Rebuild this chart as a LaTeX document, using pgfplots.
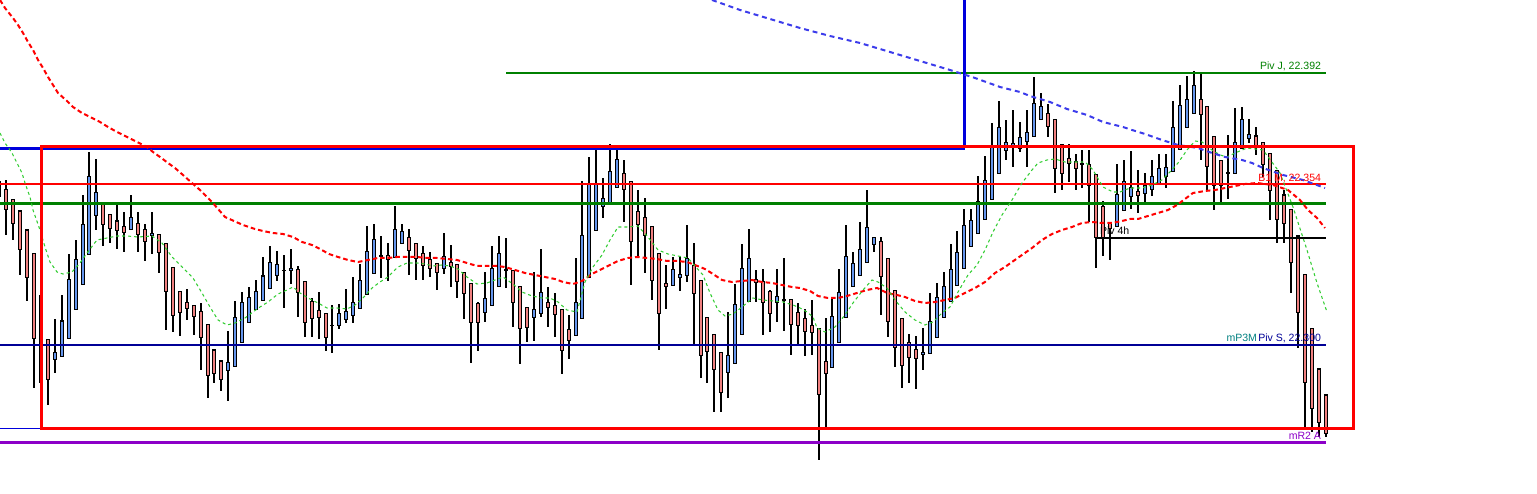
\documentclass[border=0pt]{standalone}
\usepackage{pgfplots}
\pgfplotsset{compat=1.18}
\usepackage{pgfplotstable}
\usepackage{fontspec}
\setmainfont{Liberation Sans}
\definecolor{bear}{RGB}{240,128,128}
\definecolor{bull}{RGB}{100,149,237}
\definecolor{lvred}{RGB}{255,0,0}
\definecolor{lvgreen}{RGB}{0,128,0}
\definecolor{lvnavy}{RGB}{0,0,150}
\definecolor{lvblue}{RGB}{0,0,220}
\definecolor{lvpurple}{RGB}{140,0,200}
\definecolor{maGreen}{RGB}{50,205,50}
\definecolor{maBlue}{RGB}{60,60,235}
% candles in chart pixel units (y grows downward); bull: o=bottom, c=top; bear: o=top, c=bottom
\pgfplotstableread{
x o h l c
-1 181.7 181 200 196.7
6 189.3 180 235 209.3
13 199.3 199.3 240 223.3
20 211 211 275 249.3
27 230 230 300.7 277.3
34 253.3 253.3 387.7 338.3
41 295.7 295.7 385 382.3
48 339.3 339.3 405 380
55 360 319 373.3 352.3
62 356.7 295 356.7 321
69 338.3 254 338.3 279.3
76 309.3 240 309.3 259.3
83 284.3 195 284.3 224.3
89 254.3 152.3 254.3 176.3
96 215.3 159 230 192.3
103 203.3 203.3 245.7 224.3
110 214.3 214.3 243.3 228.3
117 221 205 249.3 230.3
124 226.3 211.7 251.7 232.3
131 229.3 195 229.3 217.3
138 223.3 212.3 251.7 234.3
145 229.3 224 260.7 241.7
152 235.3 212.3 254.3 233.3
159 234.3 234.3 273.3 252.3
166 243.3 243.3 330 291.7
173 267.3 267.3 332.3 315.7
180 291.3 291.3 335.7 312.3
187 302.3 289.3 320 308.3
194 305.3 305.3 335 316.7
201 311.3 303.3 370 337.3
208 324.3 324.3 397.7 375.7
214 350 350 382.7 373.3
221 361 361 390.7 379.3
228 370.7 331 400.7 362.3
235 366.7 301 366.7 317.3
242 342.3 291.7 342.3 302.3
249 322.3 286.7 322.3 297.3
256 309.3 280 309.3 291.3
263 300.3 256.7 300.3 276
270 288.3 246 288.3 262.3
277 275.3 251 280.7 264.3
284 270.3 255 307.7 270.3
291 270.3 249 284 268.3
298 269.3 266 316.7 292.3
305 281.3 281.3 336.7 322.3
312 301.3 298 336.7 318.3
319 310.3 292.3 339.3 317.3
326 313.3 313.3 350.7 337.3
332 325.3 305 353.3 325.3
339 325.3 304 328.7 313.3
346 319.3 289 322.7 311.3
353 315.3 277 322.7 302.3
360 308.3 264.3 308.3 280.3
367 294.3 226.3 294.3 251.3
374 273.3 224.3 273.3 239.3
381 256 236 277.7 256
388 255.3 243.3 280.7 260
395 257.7 206 257.7 229.3
402 243.3 224 243.3 231.3
409 237.3 229 275 250.7
416 243.3 243.3 280 258.3
423 253.3 246 280 265.7
430 259.3 251.7 276.7 268.3
437 263.3 263.3 290 272.3
444 268.7 233 274 256.3
451 262.3 245 286.7 266.7
457 264.3 264.3 297.7 281.7
464 272.3 272.3 319 293.3
471 283.3 283.3 362.7 322.3
478 303.3 302.3 350.7 322.3
485 312.3 272.3 322.3 298.3
492 305.7 246 305.7 268.3
499 286.3 236 286.3 253.3
506 270 237.7 287.7 270
513 270.3 270.3 327.3 302.3
520 286.3 286.3 364.3 328.3
527 307.3 307.3 342.3 327.3
534 317.3 272.3 340.7 309.3
541 313.3 249 317.3 292.3
548 302.3 287.3 327.3 307.3
555 305.3 293.3 336.7 314.3
562 309.3 309.3 374.3 350.3
569 329.3 315.3 358.7 340.7
576 335.3 258.3 335.3 302.3
582 318.3 181.3 318.3 235.3
589 277.3 157.3 277.3 184.3
596 230.3 149.3 230.3 184.3
603 206.3 178.3 218.3 198.3
610 202.7 144.3 202.7 171.3
617 187.3 149.3 187.3 159.3
624 173.3 160.3 222.3 189.3
631 181.3 181.3 285 241.7
638 211.3 190 255.7 224.3
645 217.3 198.3 272.7 235.3
652 226.3 226.3 300 280.3
659 253.3 253.3 350 313.3
666 283.3 265 309 286.7
673 285.3 256.7 285.3 269.3
680 277.3 256 291 274.3
687 275.3 225 282 258.3
694 265.3 243.3 344.3 293.3
701 280.3 280.3 377.7 355.3
707 317.3 317.3 382.7 351.3
714 334.3 334.3 411.7 369.3
721 352.3 352.3 411.7 392.3
728 372.3 311.7 398.3 355.3
735 363.3 284.3 363.3 304.3
742 334.3 244.3 334.3 268.3
749 301.3 229.3 301.3 258.3
756 279.3 270 301.7 282.3
763 281.3 269.3 334.7 302.3
770 291.3 290 331.7 313.3
777 302.3 269.3 321.7 296.3
784 299.7 258.3 330.7 299.7
791 299.3 299.3 354.7 324.3
798 312.3 303.3 345.3 325.3
805 318.3 309.3 355.7 331.7
812 325.3 300.3 354.7 332.7
819 328.3 328.3 460 394.3
826 361.3 318.3 426.7 373.3
832 367.3 298.3 367.3 316.3
839 342.3 269.3 342.3 292.3
846 317.3 225.3 317.3 256.3
853 286.3 252.3 286.3 263.3
860 275.3 222.3 275.3 249.3
867 262.3 190 262.3 227.3
874 244.3 237.3 252.3 237.3
881 241.3 237.3 315 276.7
888 258.3 258.3 336.7 321.3
895 290.3 290.3 367.3 347.3
902 318.3 318.3 388.3 365.3
909 342.3 334 383.3 357.3
916 349.3 336 389.3 358.3
923 354.3 328.3 370.3 352.3
930 353.3 293.3 353.3 321.3
937 337.3 283.3 337.3 297.3
944 317.3 272.3 317.3 286.3
951 301.3 244 301.3 269.3
957 285.3 231.3 285.3 252.3
964 268.3 209.3 268.3 225.3
971 246.3 209.3 246.3 220.3
978 233.3 176.3 233.3 201.3
985 219.3 156.3 219.3 180.3
992 199.3 123.3 199.3 146.3
999 173.3 101.3 173.3 127.3
1006 150.3 120.3 160.3 142.3
1013 145.3 110.3 166.7 143.3
1020 148.3 122 152.3 137.3
1027 141.3 110.3 166.7 132.3
1034 136.3 77.3 136.3 103.3
1041 119.3 93.3 119.3 106.3
1048 113.3 104.3 136.7 126.3
1055 119.3 119.3 193.3 168.3
1062 144.3 144.3 190 173.3
1069 158.3 144.3 181.7 163.3
1076 161.3 154.3 190 168.3
1082 163.7 150 187.7 163.7
1089 164.3 150 221.7 185.3
1096 174.3 174.3 268.3 237.7
1103 206.3 201.3 255.7 237.7
1110 222.3 222.3 260 229
1117 226.3 164.3 226.3 194.3
1124 210.3 160.3 210.3 181.3
1131 196.3 151.3 209.3 187.3
1138 191.3 170.3 212.7 195.3
1145 193.3 173.3 202.7 185.3
1152 189.3 160 196.3 176.3
1159 183.3 154.3 183.3 168.3
1166 176.3 154.3 188.3 167.3
1173 171.3 101.3 171.3 127.3
1180 149.3 85 149.3 105.3
1187 127.3 76.3 127.3 99.3
1194 113.3 71.3 113.3 85.3
1201 99.3 73.3 160.3 114.3
1207 106.3 106.3 190.7 166.3
1214 136.3 136.3 209.7 185.3
1221 160.3 160.3 202.3 185.3
1228 173 135.3 198.7 173
1235 173.3 108.3 173.3 142.3
1242 148.3 107.3 148.3 119.3
1249 138.3 119.3 142.7 134.3
1256 136 127.3 155 148
1263 142.3 142.3 176.7 165
1270 153.3 153.3 220 190.7
1277 170.7 170.7 243.3 219.3
1284 195 190 243.3 224
1291 209.3 209.3 293.3 262.3
1298 236 236 348.3 312.3
1305 274.3 274.3 428.3 382.3
1312 328.3 328.3 432.3 409
1319 369 369 436.7 422.3
1326 395 395 436.7 433.3
}\candles
\pgfplotsset{
  candlebar/.style 2 args={draw=none, mark=none, forget plot,
    error bars/.cd, y dir=both, y explicit, error mark=none,
    error bar style={draw=#1, line width=#2, solid}},
}
\tikzset{lbl/.style={font=\fontsize{3pt}{3.6pt}\selectfont, inner sep=0pt, outer sep=0pt}}
\begin{document}
\begin{tikzpicture}
\begin{axis}[
  hide axis, scale only axis,
  width=153.7mm, height=49.4mm,
  xmin=0, xmax=1537, ymin=0, ymax=494, y dir=reverse,
  clip=true,
]
\coordinate (BL) at (rel axis cs:0,0);
\coordinate (TR) at (rel axis cs:1,1);
% label behind candles
\node[lbl, anchor=base west, text=black] at (axis cs:1100,235) {Piv 4h};
% wicks
\addplot[candlebar={black}{0.3pt}] table[x=x, y expr={(\thisrow{h}+\thisrow{l})/2}, y error expr={(\thisrow{l}-\thisrow{h})/2}] {\candles};
% body outlines
\addplot[candlebar={black}{1.33pt}] table[x=x, y expr={(\thisrow{o}+\thisrow{c})/2}, y error expr={abs(\thisrow{o}-\thisrow{c})/2+0.5}] {\candles};
% bull fills (close above open: c < o in pixel units)
\addplot[candlebar={bull}{0.74pt}] table[x=x, y expr={(\thisrow{o}+\thisrow{c})/2}, y error expr={max((\thisrow{o}-\thisrow{c})/2-0.6,0)}] {\candles};
% bear fills
\addplot[candlebar={bear}{0.74pt}] table[x=x, y expr={(\thisrow{o}+\thisrow{c})/2}, y error expr={max((\thisrow{c}-\thisrow{o})/2-0.6,0)}] {\candles};
% horizontal levels
\addplot[lvgreen, line width=0.3pt] coordinates {(506,73) (1326,73)};
\addplot[lvred, line width=0.57pt] coordinates {(0,183.7) (1326,183.7)};
\addplot[lvgreen, line width=0.8pt] coordinates {(0,203.3) (1326,203.3)};
\addplot[black, line width=0.6pt] coordinates {(1097,237.8) (1326,237.8)};
\addplot[lvnavy, line width=0.57pt] coordinates {(0,345) (1326,345)};
\addplot[lvpurple, line width=0.95pt] coordinates {(0,442.7) (1326,442.7)};
\addplot[lvblue, line width=0.3pt] coordinates {(0,428.3) (41,428.3)};
\addplot[lvblue, line width=0.75pt] coordinates {(0,148.3) (965,148.3)};
\addplot[lvblue, line width=0.85pt] coordinates {(964.3,0) (964.3,148.5)};
% moving averages
\addplot[lvred, line width=0.57pt, dash pattern=on 1.3pt off 0.85pt] coordinates {
(0,0) (5,8) (13,18) (18,25) (23,33) (28,42) (33,50) (38,60) (43,68) (48,77) (53,85) (58,93) (67,101) (73,107) (82,113) (90,117) (100,122) (108,127) (117,132) (127,137) (137,142) (147,147) (153,152) (160,157) (168,163) (175,168) (183,175) (192,183) (200,190) (207,197) (212,202) (225,217) (243,225) (255,229) (263,231) (273,233) (283,234) (293,237) (302,242) (312,245) (320,249) (329,254) (338,257) (348,260) (358,262) (368,260) (378,258) (388,258) (397,257) (408,257) (417,257) (427,258) (437,258) (447,259) (457,260) (467,263) (477,266) (487,266) (497,266) (505,267) (515,270) (525,273) (535,275) (545,277) (555,279) (563,282) (573,284) (582,281) (592,274) (600,270) (610,265) (618,261) (628,258) (637,257) (647,258) (657,259) (667,261) (677,261) (687,262) (695,265) (705,269) (713,274) (722,280) (732,282) (742,281) (752,280) (762,282) (772,283) (782,285) (792,287) (800,288) (810,291) (818,296) (828,298) (838,298) (847,296) (857,293) (867,290) (877,288) (887,293) (897,295) (905,297) (915,301) (925,303) (935,302) (945,300) (955,298) (965,293) (975,288) (985,282) (995,273) (1005,267) (1012,262) (1022,255) (1032,248) (1042,240) (1052,234) (1062,230) (1072,227) (1082,223) (1092,222) (1102,223) (1112,223) (1122,221) (1130,219) (1138,219) (1148,216) (1158,213) (1168,210) (1177,205) (1185,199) (1193,193) (1205,191) (1215,190) (1225,188) (1235,186) (1245,184) (1257,183) (1273,185) (1288,190) (1300,200) (1308,210) (1317,218) (1325,228)};
\addplot[maGreen, line width=0.3pt, dash pattern=on 0.85pt off 0.85pt] coordinates {
(0,133) (5,143) (12,153) (17,163) (22,173) (25,183) (30,197) (33,210) (40,230) (45,247) (50,262) (57,272) (63,274) (72,272) (80,263) (87,253) (97,240) (107,238) (117,236) (127,236) (138,237) (152,236) (162,243) (172,257) (183,268) (193,278) (202,293) (210,307) (218,320) (227,325) (235,323) (245,318) (253,312) (260,307) (268,302) (278,294) (287,290) (293,287) (300,293) (308,298) (318,303) (327,308) (337,308) (347,309) (355,305) (363,298) (372,288) (380,282) (388,277) (398,267) (407,263) (417,263) (425,264) (433,266) (442,265) (450,266) (458,269) (467,277) (477,284) (487,283) (495,280) (503,277) (513,284) (522,292) (532,296) (542,298) (550,298) (558,302) (567,310) (577,312) (585,282) (593,267) (602,255) (610,240) (618,227) (627,227) (638,226) (648,237) (658,250) (668,254) (678,256) (688,258) (695,266) (703,275) (710,293) (718,310) (725,316) (733,314) (742,307) (753,298) (763,300) (773,301) (783,302) (793,305) (800,308) (807,312) (813,317) (817,328) (825,332) (835,327) (845,315) (853,303) (863,290) (872,280) (878,282) (887,288) (895,300) (905,312) (915,320) (925,325) (933,322) (942,313) (950,307) (958,292) (968,275) (977,265) (985,250) (993,232) (1002,215) (1012,200) (1022,183) (1032,170) (1038,163) (1047,160) (1055,159) (1065,162) (1075,162) (1085,162) (1093,170) (1103,187) (1113,192) (1120,192) (1130,188) (1142,188) (1152,185) (1162,180) (1170,172) (1178,163) (1187,150) (1195,141) (1202,142) (1212,150) (1220,155) (1227,157) (1235,153) (1247,148) (1263,150) (1280,173) (1293,207) (1307,250) (1317,283) (1327,312)};
\addplot[maBlue, line width=0.57pt, dash pattern=on 1.4pt off 1.1pt] coordinates {
(712,0) (740,10) (770,19) (800,28) (830,36) (860,43) (890,52) (920,61) (950,70) (975,78) (1000,87) (1020,92) (1030,96) (1050,102) (1067,109) (1087,115) (1103,122) (1123,127) (1132,130) (1145,134) (1162,140) (1178,145) (1198,148) (1212,153) (1225,157) (1242,160) (1252,163) (1263,168) (1283,175) (1303,180) (1325,188)};
% box
\addplot[lvred, line width=0.95pt, line cap=rect] coordinates {(41.3,146.5) (1353.5,146.5) (1353.5,428.3) (41.3,428.3) (41.3,146.5)};
% labels
\node[lbl, anchor=base east, text=lvgreen] at (axis cs:1321,70) {Piv J, 22.392};
\node[lbl, anchor=base east, text=lvred] at (axis cs:1321,181.5) {B1 M, 22.354};
\node[lbl, anchor=base east, text=teal] at (axis cs:1257,342) {mP3M};
\node[lbl, anchor=base east, text=lvnavy] at (axis cs:1321,342) {Piv S, 22.300};
\node[lbl, anchor=base east, text=lvpurple] at (axis cs:1321,440) {mR2 A};
\end{axis}
\pgfresetboundingbox
\path (BL) rectangle (TR);
\end{tikzpicture}
\end{document}
